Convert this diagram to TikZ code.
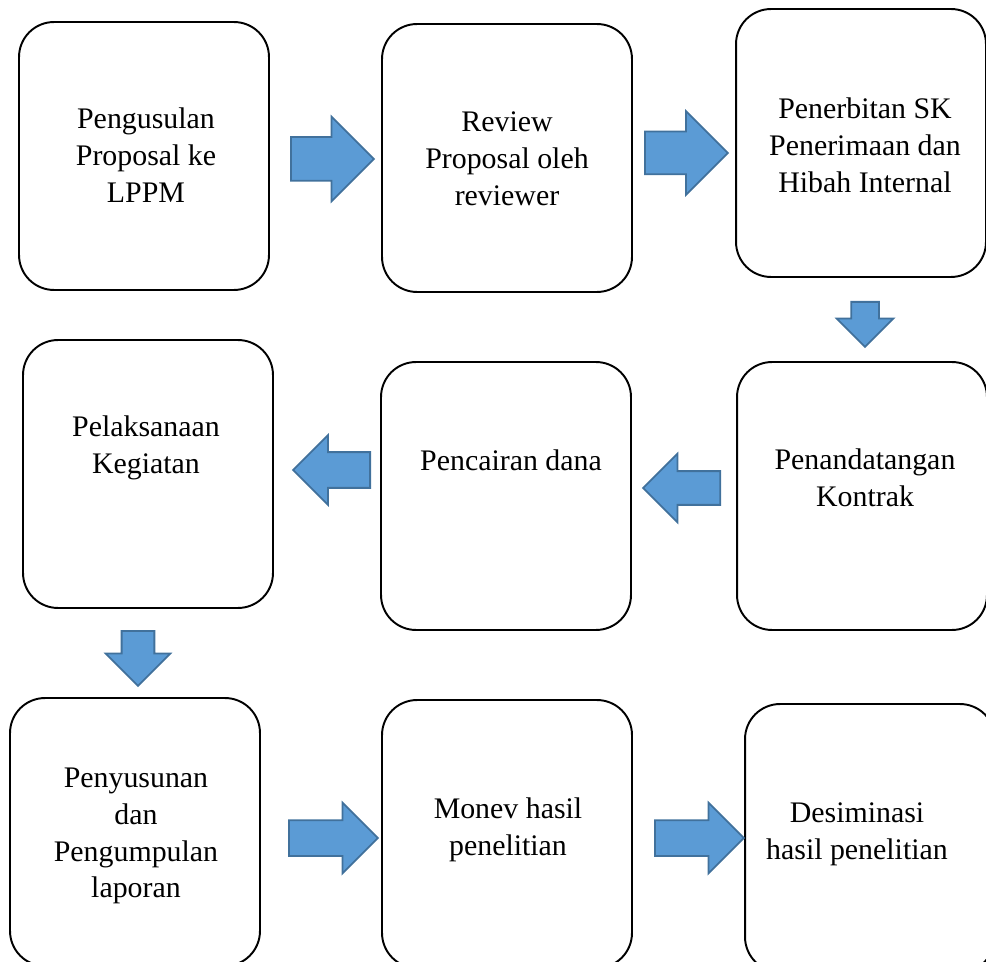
\documentclass[tikz,border=0pt]{standalone}
\usepackage{fontspec}
\setmainfont{Liberation Serif}
\usetikzlibrary{shapes.arrows,positioning}

\definecolor{arrowblue}{HTML}{5B9BD5}
\definecolor{arrowline}{HTML}{41719C}

\tikzset{
  stepbox/.style={draw=black, fill=white, line width=1.1pt, rounded corners=0.7cm,
    minimum width=5cm, minimum height=5.36cm, inner sep=0pt},
  steptext/.style={align=center, inner sep=0pt, font=\fontsize{17}{21}\selectfont},
  % #1 panjang, #2 setengah lebar batang, #3 lebihan kepala
  blockarrow/.style n args={3}{single arrow, draw=arrowline, fill=arrowblue,
    line width=1pt, anchor=tail, inner xsep=0pt, inner ysep=#2, minimum height=#1,
    minimum width=0pt, single arrow head extend=#3},
  downarrow/.style n args={3}{blockarrow={#1}{0pt}{#3}, inner xsep=#2,
    shape border rotate=270},
}

\begin{document}
\begin{tikzpicture}[x=0.02cm, y=-0.02cm]
\useasboundingbox (0,0) rectangle (986,962);

% langkah-langkah
\node[stepbox] (usul) at (144,156) {};
\node[stepbox] (review) at (507,158) {};
\node[stepbox] (sk) at (861,143) {};
\node[stepbox] (laksana) at (148,474) {};
\node[stepbox] (cair) at (506,496) {};
\node[stepbox] (kontrak) at (862,496) {};
\node[stepbox] (laporan) at (135,832) {};
\node[stepbox] (monev) at (507,834) {};
\node[stepbox] (desiminasi) at (870,838) {};

\node[steptext] (tusul) at (146,155) {Pengusulan\\Proposal ke\\LPPM};
\node[steptext] (treview) at (507,159) {Review\\Proposal oleh\\reviewer};
\node[steptext] (tsk) at (865,145) {Penerbitan SK\\Penerimaan dan\\Hibah Internal};
\node[steptext] (tlaksana) at (146,448) {Pelaksanaan\\Kegiatan};
\node[steptext] (tcair) at (511,460) {Pencairan dana};
\node[steptext] (tkontrak) at (865,478) {Penandatangan\\Kontrak};
\node[steptext] (tlaporan) at (136,836) {Penyusunan\\dan\\Pengumpulan\\laporan};
\node[steptext] (tmonev) at (508,830) {Monev hasil\\penelitian};
\node[steptext] (tdesiminasi) at (857,834) {Desiminasi\\hasil penelitian};

% panah biru, dipasang pada pangkalnya
\node[blockarrow={1.66cm}{0.42cm}{0.41cm}] (a1) at (290,159) {};
\node[blockarrow={1.66cm}{0.41cm}{0.41cm}] (a2) at (644,153) {};
\node[downarrow={0.9cm}{0.26cm}{0.29cm}] (a3) at (865,301) {};
\node[blockarrow={1.54cm}{0.34cm}{0.34cm}, shape border rotate=180] (a4) at (371,470) {};
\node[blockarrow={1.54cm}{0.32cm}{0.35cm}, shape border rotate=180] (a5) at (721,488) {};
\node[downarrow={1.1cm}{0.31cm}{0.32cm}] (a6) at (138,630) {};
\node[blockarrow={1.78cm}{0.34cm}{0.35cm}] (a7) at (288,838) {};
\node[blockarrow={1.78cm}{0.34cm}{0.35cm}] (a8) at (654,838) {};
\end{tikzpicture}
\end{document}
